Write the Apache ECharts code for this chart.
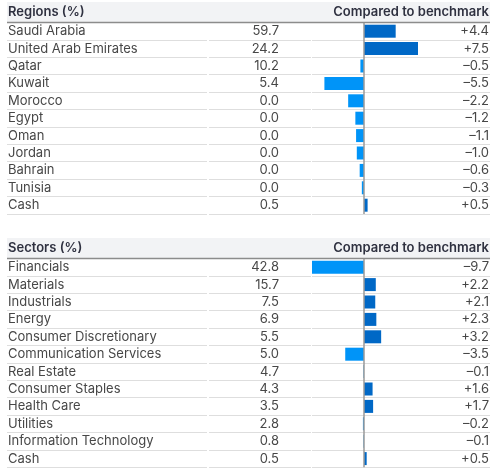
<!DOCTYPE html>
<html><head><meta charset="utf-8">
<script src="https://cdn.jsdelivr.net/npm/echarts@6/dist/echarts.min.js"></script>
<style>html,body{margin:0;padding:0;background:#fff}#c{width:495px;height:471px}</style>
</head><body><div id="c"></div>
<script>
const regionNames = ['Saudi Arabia','United Arab Emirates','Qatar','Kuwait','Morocco','Egypt','Oman','Jordan','Bahrain','Tunisia','Cash'];
const regionWeights = [59.7,24.2,10.2,5.4,0.0,0.0,0.0,0.0,0.0,0.0,0.5];
const regionDiff = [4.4,7.5,-0.5,-5.5,-2.2,-1.2,-1.1,-1.0,-0.6,-0.3,0.5];

const sectorNames = ['Financials','Materials','Industrials','Energy','Consumer Discretionary','Communication Services','Real Estate','Consumer Staples','Health Care','Utilities','Information Technology','Cash'];
const sectorWeights = [42.8,15.7,7.5,6.9,5.5,5.0,4.7,4.3,3.5,2.8,0.8,0.5];
const sectorDiff = [-9.7,2.2,2.1,2.3,3.2,-3.5,-0.1,1.6,1.7,-0.2,-0.1,0.5];

const FONT = 'Inter, Roboto, sans-serif';
const TXT = '#474747';
const SPLIT = '#dedede';
const POS = '#0068c6';
const NEG = '#0094f8';

const fmtW = v => v.toFixed(1);
const fmtD = v => (v > 0 ? '+' : '\u2013') + Math.abs(v).toFixed(1);

const option = {
  animation: false,
  grid: [], xAxis: [], yAxis: [], series: [], graphic: []
};

function addTable(top, names, weights, diffs, xmin, xmax, title) {
  const n = names.length;
  const h = n * 17.4;
  const g0 = option.grid.length;
  option.grid.push({left: 7, top: top, width: 200, height: h});
  option.grid.push({left: 209, top: top, width: 102, height: h});
  option.grid.push({left: 312, top: top, width: 178, height: h});
  const xa0 = option.xAxis.length;
  option.xAxis.push({gridIndex: g0, type: 'value', show: false});
  option.xAxis.push({gridIndex: g0 + 1, type: 'value', show: false});
  option.xAxis.push({gridIndex: g0 + 2, type: 'value', show: false, min: xmin, max: xmax});
  const ya0 = option.yAxis.length;
  const split = {show: true, lineStyle: {color: SPLIT, width: 1}};
  const lbl = {color: TXT, fontSize: 13, fontFamily: FONT};
  option.yAxis.push({gridIndex: g0, type: 'category', inverse: true, data: names,
    axisLine: {show: false}, axisTick: {show: false}, splitLine: split,
    axisLabel: Object.assign({align: 'left', margin: -1}, lbl)});
  option.yAxis.push({gridIndex: g0 + 1, type: 'category', inverse: true, position: 'right', data: weights.map(fmtW),
    axisLine: {show: false}, axisTick: {show: false}, splitLine: split,
    axisLabel: Object.assign({align: 'right', margin: -32}, lbl)});
  option.yAxis.push({gridIndex: g0 + 2, type: 'category', inverse: true, position: 'left', data: names,
    axisLine: {show: false}, axisTick: {show: false}, splitLine: split,
    axisLabel: {show: false}});
  option.yAxis.push({gridIndex: g0 + 2, type: 'category', inverse: true, position: 'right', data: diffs.map(fmtD),
    axisLine: {show: false}, axisTick: {show: false}, splitLine: {show: false},
    axisLabel: Object.assign({align: 'right', margin: -1}, lbl)});
  option.series.push({
    type: 'bar', xAxisIndex: xa0 + 2, yAxisIndex: ya0 + 2, barWidth: 13,
    data: diffs.map(v => ({value: v, itemStyle: {color: v >= 0 ? POS : NEG}})),
    markLine: {silent: true, symbol: ['none', 'none'], label: {show: false},
      lineStyle: {color: '#9a9a9a', width: 1.5, type: 'solid'}, z: 5,
      data: [{xAxis: 0}]}
  });
  // header
  option.graphic.push({type: 'rect', z: 10, shape: {x: 7, y: top - 20.5, width: 483, height: 20}, style: {fill: '#f2f3f5'}});
  option.graphic.push({type: 'line', z: 11, shape: {x1: 7, y1: top, x2: 490, y2: top}, style: {stroke: '#8c8c8c', lineWidth: 1.5}});
  option.graphic.push({type: 'text', z: 12, x: 8, y: top - 10, style: {text: title, font: '600 13px ' + FONT, fill: '#2f3140', textAlign: 'left', textVerticalAlign: 'middle'}});
  option.graphic.push({type: 'text', z: 12, x: 489, y: top - 10, style: {text: 'Compared to benchmark', font: '600 13px ' + FONT, fill: '#2f3140', textAlign: 'right', textVerticalAlign: 'middle'}});
}

addTable(22.5, regionNames, regionWeights, regionDiff, -52 / 7.2, 126 / 7.2, 'Regions (%)');
addTable(258.5, sectorNames, sectorWeights, sectorDiff, -9.7, 126 / (52 / 9.7), 'Sectors (%)');

const chart = echarts.init(document.getElementById('c'), null, {renderer: 'canvas'});
chart.setOption(option);
</script>
</body></html>
